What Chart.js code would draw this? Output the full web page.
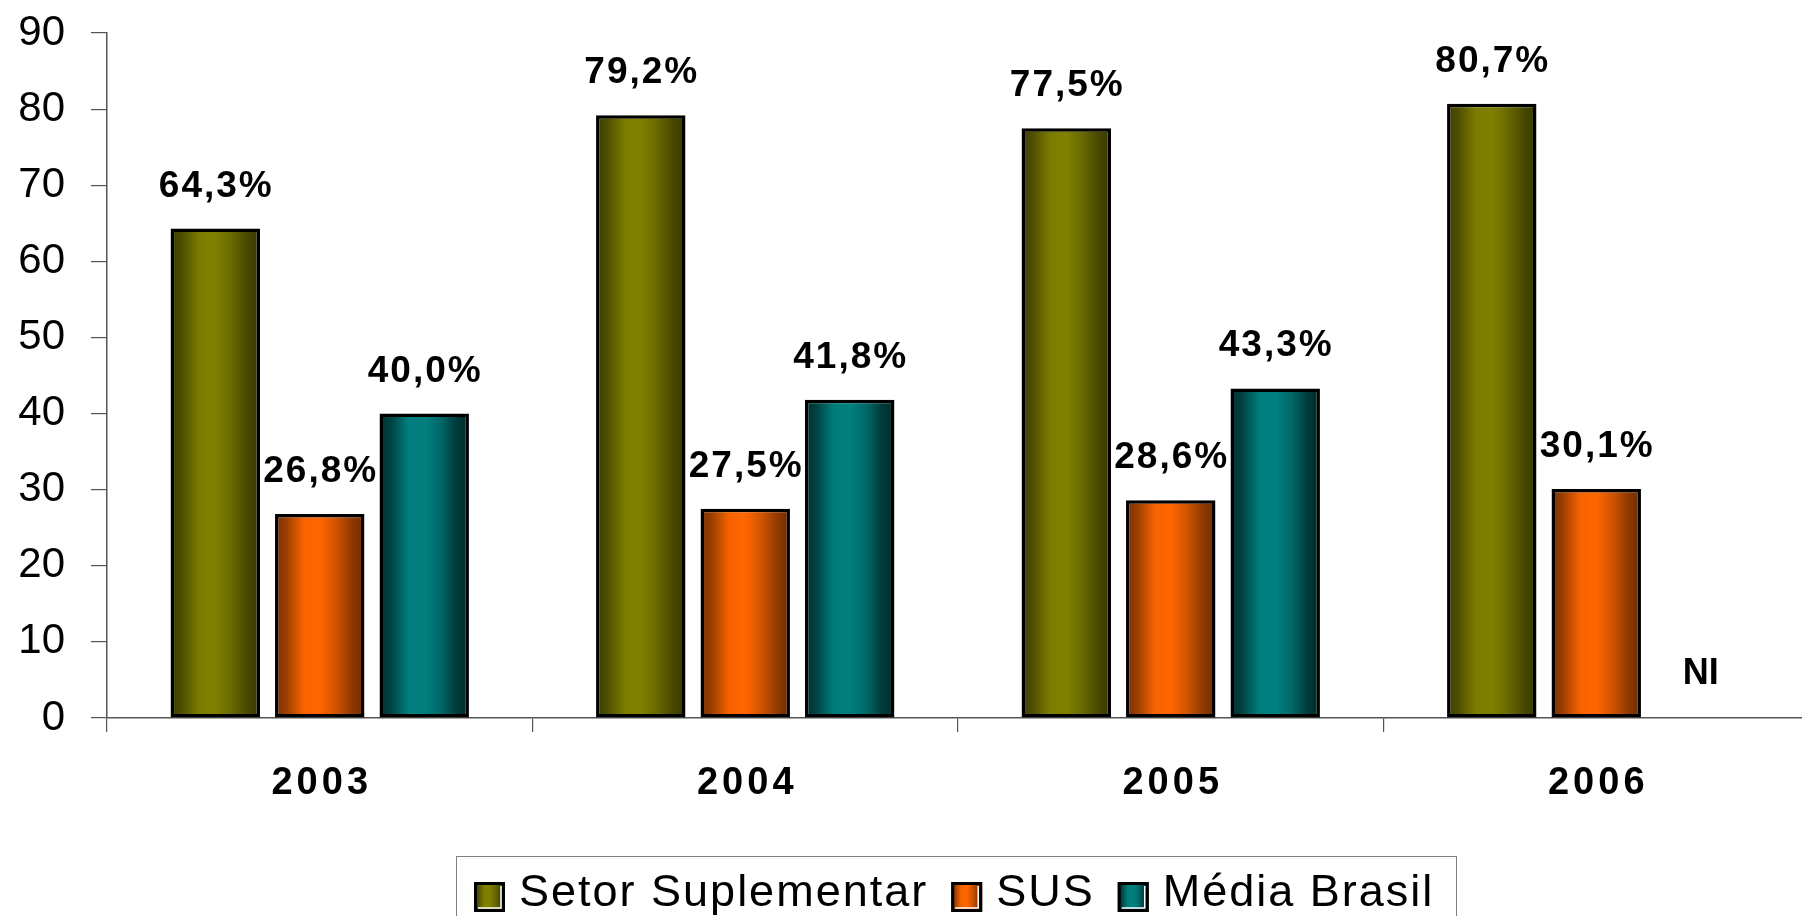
<!DOCTYPE html>
<html>
<head>
<meta charset="utf-8">
<script src="https://cdn.jsdelivr.net/npm/chart.js@4/dist/chart.umd.min.js"></script>
<style>
  html, body { margin: 0; padding: 0; background: #fff; overflow: hidden; }
  #wrap { width: 1802px; height: 916px; overflow: hidden; position: relative; }
  canvas { display: block; }
</style>
</head>
<body>
<div id="wrap"><canvas id="c" width="1810" height="916"></canvas></div>
<script>
// ---- data ----
const categories = ['2003', '2004', '2005', '2006'];
const seriesNames = ['Setor Suplementar', 'SUS', 'Média Brasil'];
const setorSuplementar = [64.3, 79.2, 77.5, 80.7];
const sus = [26.8, 27.5, 28.6, 30.1];
const mediaBrasil = [40.0, 41.8, 43.3, null];
const missingLabel = 'NI';
const yTicks = [0, 10, 20, 30, 40, 50, 60, 70, 80, 90];

// ---- styling ----
const FONT = '"Liberation Sans", Arial, Helvetica, sans-serif';
const CAT_PCT = 0.7366;
const BAR_PCT = 0.856;
const baseColors = [[128, 128, 0], [255, 102, 0], [0, 128, 128]];
const darkFactor = [0.48, 0.48, 0.38];

function shade(rgb, f) {
  return 'rgb(' + rgb.map(v => Math.round(v * f)).join(',') + ')';
}
function makeGradient(ctx, x0, x1, di) {
  const c = baseColors[di], d = darkFactor[di];
  const g = ctx.createLinearGradient(x0, 0, x1, 0);
  g.addColorStop(0.0, shade(c, d));
  g.addColorStop(0.12, shade(c, d + 0.12));
  g.addColorStop(0.32, shade(c, 0.97));
  g.addColorStop(0.5, shade(c, 1.0));
  g.addColorStop(0.68, shade(c, 0.82));
  g.addColorStop(0.86, shade(c, d + 0.08));
  g.addColorStop(1.0, shade(c, d - 0.05));
  return g;
}
function barGradient(c) {
  const chart = c.chart;
  const xs = chart.scales && chart.scales.x;
  if (!chart.chartArea || !xs) return shade(baseColors[c.datasetIndex], 1);
  const catW = xs.width / categories.length;
  const slot = catW * CAT_PCT / seriesNames.length;
  const cx = xs.getPixelForValue(c.dataIndex) + (c.datasetIndex - 1) * slot;
  const w = slot * BAR_PCT;
  return makeGradient(chart.ctx, cx - w / 2, cx + w / 2, c.datasetIndex);
}

const fmt = v => v.toFixed(1).replace('.', ',') + '%';

const labelPlugin = {
  id: 'valueLabels',
  afterDatasetsDraw(chart) {
    const ctx = chart.ctx;
    const ys = chart.scales.y;
    ctx.save();
    ctx.fillStyle = '#000';
    ctx.textAlign = 'center';
    ctx.textBaseline = 'alphabetic';
    chart.data.datasets.forEach((ds, di) => {
      const meta = chart.getDatasetMeta(di);
      meta.data.forEach((el, i) => {
        const v = ds.data[i];
        if (v === null || v === undefined) {
          ctx.font = 'bold 36px ' + FONT;
          ctx.letterSpacing = '0px';
          ctx.fillText(missingLabel, el.x, ys.getPixelForValue(0) - 34);
        } else {
          ctx.font = 'bold 37px ' + FONT;
          ctx.letterSpacing = '2px';
          ctx.fillText(fmt(v), el.x + 1, el.y - 32);
        }
      });
    });
    ctx.restore();
  }
};

const xLabelSpacing = {
  id: 'xLabelSpacing',
  beforeDraw(chart) {
    const s = chart.scales.x;
    if (s && !s._spaced) {
      const orig = s.drawLabels.bind(s);
      s.drawLabels = function (area) {
        this.ctx.save();
        this.ctx.letterSpacing = '4px';
        this.ctx.translate(2, 0);
        orig(area);
        this.ctx.restore();
      };
      s._spaced = true;
    }
  }
};

const legendPlugin = {
  id: 'boxLegend',
  afterDraw(chart) {
    const ctx = chart.ctx;
    ctx.save();
    ctx.strokeStyle = '#808080';
    ctx.lineWidth = 1;
    ctx.strokeRect(456.5, 856.5, 1000, 120);
    ctx.font = '45px ' + FONT;
    ctx.letterSpacing = '2px';
    ctx.textBaseline = 'alphabetic';
    ctx.textAlign = 'left';
    let x = 474;
    const sw = 31, sh = 30, sy = 882;
    seriesNames.forEach((name, i) => {
      ctx.fillStyle = makeGradient(ctx, x, x + sw, i);
      ctx.fillRect(x, sy, sw, sh);
      ctx.strokeStyle = '#000';
      ctx.lineWidth = 3;
      ctx.strokeRect(x + 1.5, sy + 1.5, sw - 3, sh - 3);
      ctx.strokeStyle = '#fff';
      ctx.lineWidth = 1.5;
      ctx.beginPath();
      ctx.moveTo(x + 4, sy + sh - 4);
      ctx.lineTo(x + sw - 4, sy + sh - 4);
      ctx.lineTo(x + sw - 4, sy + 4);
      ctx.stroke();
      ctx.fillStyle = '#000';
      const tx = x + sw + 14;
      ctx.fillText(name, tx, 906);
      x = tx + ctx.measureText(name).width + 23;
    });
    ctx.restore();
  }
};

const values = [setorSuplementar, sus, mediaBrasil];

new Chart(document.getElementById('c'), {
  type: 'bar',
  data: {
    labels: categories,
    datasets: seriesNames.map((name, i) => ({
      label: name,
      data: values[i],
      backgroundColor: barGradient,
      borderColor: '#000',
      borderWidth: 3.5,
      borderSkipped: false,
      categoryPercentage: CAT_PCT,
      barPercentage: BAR_PCT
    }))
  },
  options: {
    responsive: false,
    animation: false,
    devicePixelRatio: 1,
    layout: { padding: { top: 33, right: 1, bottom: 98, left: 0 } },
    plugins: { legend: { display: false }, tooltip: { enabled: false } },
    scales: {
      x: {
        offset: true,
        grid: { offset: true, drawOnChartArea: false, drawTicks: true, tickLength: 14, color: '#555', lineWidth: 1.2 },
        border: { color: '#555', width: 1.5 },
        ticks: { color: '#000', font: { family: FONT, size: 38, weight: 'bold' }, padding: 29, maxRotation: 0 },
        afterFit: s => { s.height = 100; }
      },
      y: {
        min: 0, max: 90,
        afterBuildTicks: s => { s.ticks = yTicks.map(v => ({ value: v })); },
        grid: { drawOnChartArea: false, drawTicks: true, tickLength: 16, color: '#555', lineWidth: 1.2 },
        border: { color: '#555', width: 1.5 },
        ticks: { color: '#000', font: { family: FONT, size: 42 }, padding: 26 },
        afterFit: s => { s.width = 107; s.paddingTop = 0; s.paddingBottom = 0; }
      }
    }
  },
  plugins: [labelPlugin, xLabelSpacing, legendPlugin]
});
</script>
</body>
</html>
